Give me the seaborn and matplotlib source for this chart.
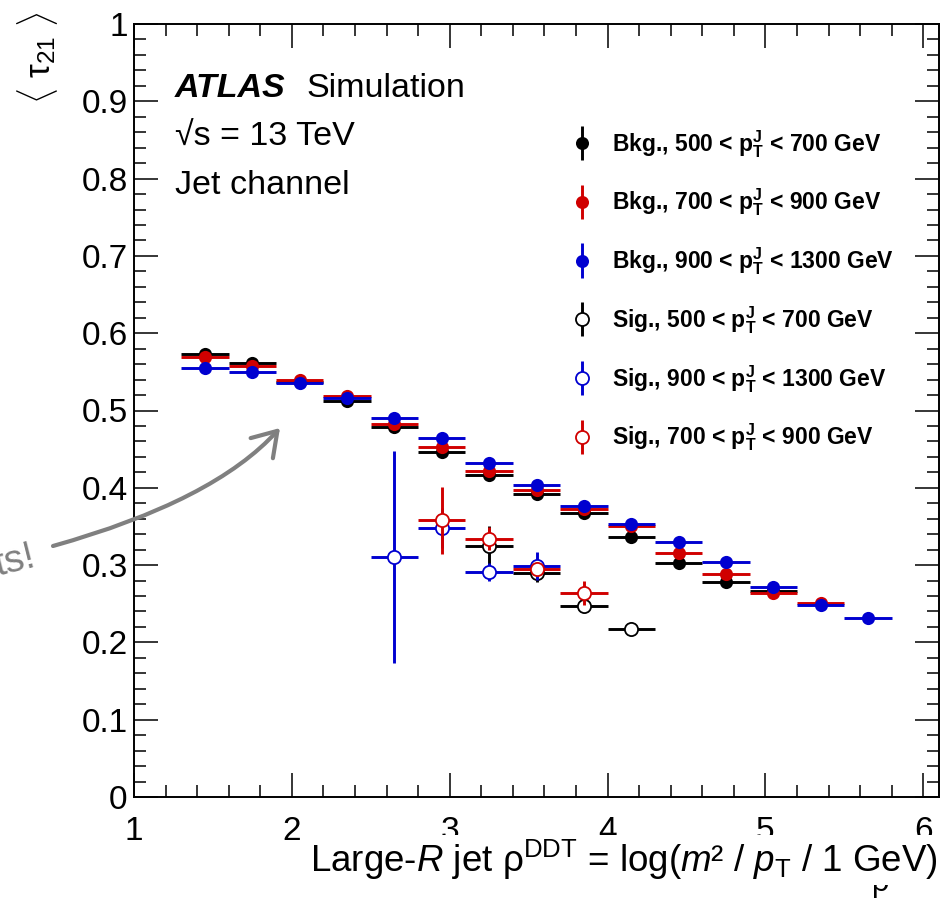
import numpy as np
import pandas as pd
import matplotlib
matplotlib.use("Agg")
import matplotlib.pyplot as plt
import seaborn as sns
from matplotlib.path import Path
from matplotlib.patches import FancyArrowPatch
from matplotlib.ticker import MultipleLocator
from matplotlib.container import ErrorbarContainer
from matplotlib.legend_handler import HandlerErrorbar

# ---------------------------------------------------------------- data
BIN_HALF_WIDTH = 0.15

bkg_500_700_rho = [1.45, 1.75, 2.05, 2.35, 2.65, 2.95, 3.25, 3.55, 3.85, 4.15, 4.45, 4.75, 5.05]
bkg_500_700_tau = [0.573, 0.561, 0.537, 0.512, 0.479, 0.446, 0.417, 0.392, 0.367, 0.336, 0.303, 0.278, 0.267]
bkg_500_700_err = [0.002, 0.002, 0.002, 0.002, 0.002, 0.002, 0.002, 0.002, 0.002, 0.003, 0.003, 0.003, 0.004]

bkg_700_900_rho = [1.45, 1.75, 2.05, 2.35, 2.65, 2.95, 3.25, 3.55, 3.85, 4.15, 4.45, 4.75, 5.05, 5.35]
bkg_700_900_tau = [0.569, 0.558, 0.539, 0.519, 0.483, 0.453, 0.422, 0.397, 0.372, 0.351, 0.316, 0.288, 0.264, 0.251]
bkg_700_900_err = [0.002, 0.002, 0.002, 0.002, 0.002, 0.002, 0.002, 0.002, 0.002, 0.003, 0.003, 0.003, 0.004, 0.004]

bkg_900_1300_rho = [1.45, 1.75, 2.05, 2.35, 2.65, 2.95, 3.25, 3.55, 3.85, 4.15, 4.45, 4.75, 5.05, 5.35, 5.65]
bkg_900_1300_tau = [0.555, 0.550, 0.536, 0.516, 0.490, 0.464, 0.432, 0.404, 0.376, 0.353, 0.330, 0.304, 0.272, 0.249, 0.231]
bkg_900_1300_err = [0.002, 0.002, 0.002, 0.002, 0.002, 0.002, 0.002, 0.002, 0.002, 0.003, 0.003, 0.003, 0.004, 0.004, 0.004]

sig_500_700_rho = [3.25, 3.55, 3.85, 4.15]
sig_500_700_tau = [0.325, 0.290, 0.247, 0.217]
sig_500_700_err = [0.025, 0.012, 0.008, 0.004]

sig_900_1300_rho = [2.65, 2.95, 3.25, 3.55]
sig_900_1300_tau = [0.310, 0.348, 0.291, 0.299]
sig_900_1300_err = [0.137, 0.026, 0.012, 0.018]

sig_700_900_rho = [2.95, 3.25, 3.55, 3.85]
sig_700_900_tau = [0.358, 0.334, 0.295, 0.264]
sig_700_900_err = [0.043, 0.015, 0.008, 0.015]

series_names = [
    r"Bkg., 500 < $\mathbf{p}_{\mathbf{T}}^{\mathbf{J}}$ < 700 GeV",
    r"Bkg., 700 < $\mathbf{p}_{\mathbf{T}}^{\mathbf{J}}$ < 900 GeV",
    r"Bkg., 900 < $\mathbf{p}_{\mathbf{T}}^{\mathbf{J}}$ < 1300 GeV",
    r"Sig., 500 < $\mathbf{p}_{\mathbf{T}}^{\mathbf{J}}$ < 700 GeV",
    r"Sig., 900 < $\mathbf{p}_{\mathbf{T}}^{\mathbf{J}}$ < 1300 GeV",
    r"Sig., 700 < $\mathbf{p}_{\mathbf{T}}^{\mathbf{J}}$ < 900 GeV",
]
series_data = [
    (bkg_500_700_rho, bkg_500_700_tau, bkg_500_700_err),
    (bkg_700_900_rho, bkg_700_900_tau, bkg_700_900_err),
    (bkg_900_1300_rho, bkg_900_1300_tau, bkg_900_1300_err),
    (sig_500_700_rho, sig_500_700_tau, sig_500_700_err),
    (sig_900_1300_rho, sig_900_1300_tau, sig_900_1300_err),
    (sig_700_900_rho, sig_700_900_tau, sig_700_900_err),
]
series_colors = ["#000000", "#d00000", "#0000d0", "#000000", "#0000d0", "#d00000"]
series_filled = [True, True, True, False, False, False]

x_ticks = [1, 2, 3, 4, 5, 6]
x_tick_labels = ["1", "2", "3", "4", "5", "6"]
y_ticks = [0.0, 0.1, 0.2, 0.3, 0.4, 0.5, 0.6, 0.7, 0.8, 0.9, 1.0]
y_tick_labels = ["0", "0.1", "0.2", "0.3", "0.4", "0.5", "0.6", "0.7", "0.8", "0.9", "1"]

frames = []
for name, (rho, tau, err) in zip(series_names, series_data):
    frames.append(pd.DataFrame({"rho": rho, "tau": tau, "err": err, "series": name}))
df = pd.concat(frames, ignore_index=True)

# ---------------------------------------------------------------- style
sns.set_theme(style="ticks")
plt.rcParams["font.family"] = ["Liberation Sans", "DejaVu Sans"]
plt.rcParams["mathtext.fontset"] = "custom"
plt.rcParams["mathtext.rm"] = "Liberation Sans"
plt.rcParams["mathtext.it"] = "Liberation Sans:italic"
plt.rcParams["mathtext.bf"] = "Liberation Sans:bold"
plt.rcParams["mathtext.sf"] = "Liberation Sans"
plt.rcParams["axes.edgecolor"] = "black"
plt.rcParams["xtick.color"] = "black"
plt.rcParams["ytick.color"] = "black"
plt.rcParams["text.color"] = "black"

W, H = 943, 900
fig = plt.figure(figsize=(W / 100, H / 100), dpi=100)
fig.patch.set_facecolor("white")
ax = fig.add_axes([134 / W, 1 - 797 / H, (939 - 134) / W, (797 - 24) / H])
ax.set_facecolor("white")

# ---------------------------------------------------------------- markers
z = 3
for name, color, filled in zip(series_names, series_colors, series_filled):
    sub = df[df["series"] == name]
    ax.errorbar(sub["rho"], sub["tau"], xerr=BIN_HALF_WIDTH, yerr=sub["err"],
                fmt="none", ecolor=color, elinewidth=2.1, capsize=0, zorder=z)
    sns.scatterplot(data=sub, x="rho", y="tau", ax=ax, marker="o", s=90,
                    color=color, facecolor=color if filled else "white",
                    edgecolor=color, linewidth=0 if filled else 1.3,
                    zorder=z + 1, legend=False)
    z += 2

# ---------------------------------------------------------------- axes
ax.set_xlim(1, 6.1)
ax.set_ylim(0, 1)
ax.set_xticks(x_ticks)
ax.set_xticklabels(x_tick_labels)
ax.set_yticks(y_ticks)
ax.set_yticklabels(y_tick_labels)
ax.xaxis.set_minor_locator(MultipleLocator(0.2))
ax.yaxis.set_minor_locator(MultipleLocator(0.02))
ax.tick_params(which="both", direction="in", top=True, right=True, width=1.1)
ax.tick_params(which="major", length=17, labelsize=24)
ax.tick_params(which="minor", length=8.5)
ax.tick_params(axis="x", which="major", pad=13.5)
ax.tick_params(axis="y", which="major", pad=4.5)
for sp in ax.spines.values():
    sp.set_linewidth(1.4)
    sp.set_color("black")
ax.set_xlabel("")
ax.set_ylabel("")

fig.text(37 / W, 1 - 58 / H, r"$\langle$ τ$_{\mathsf{21}}$ $\rangle$", rotation=90,
         ha="center", va="center", fontsize=25)

# ---------------------------------------------------------------- labels
fig.text(175 / W, 1 - 97 / H, "ATLAS", fontsize=24.5, fontweight="bold",
         fontstyle="italic", va="baseline")
fig.text(306 / W, 1 - 97 / H, "Simulation", fontsize=24.5, va="baseline")
fig.text(175 / W, 1 - 146 / H, "√s = 13 TeV", fontsize=24.5, va="baseline")
fig.text(175 / W, 1 - 194 / H, "Jet channel", fontsize=24.5, va="baseline")

# ---------------------------------------------------------------- legend
handles = []
for color, filled in zip(series_colors, series_filled):
    h = ax.errorbar([np.nan], [np.nan], yerr=[np.nan], fmt="o", color=color,
                    mfc=color if filled else "white", mec=color, ms=9.4,
                    mew=0 if filled else 1.3, elinewidth=2.1, capsize=0)
    handles.append(h)
leg = ax.legend(handles, series_names, loc="upper left",
                bbox_to_anchor=(571 / W, 1 - 128 / H), bbox_transform=fig.transFigure,
                frameon=False, prop={"family": "Liberation Sans", "weight": "bold", "size": 16.5},
                handlelength=1.0, handletextpad=0.8, labelspacing=1.18,
                borderpad=0, borderaxespad=0,
                handler_map={ErrorbarContainer: HandlerErrorbar(yerr_size=0.75)})

# ---------------------------------------------------------------- x axis title
fig.text(934 / W, 1 - 892 / H, r"ρ$^{\mathsf{DDT}}$", ha="right", va="baseline", fontsize=22)
fig.text(310 / W, 1 - 872 / H,
         r"Large-$R$ jet ρ$^{\mathsf{DDT}}$ = log($m$² / $p_{\mathsf{T}}$ / 1 GeV)",
         fontsize=26.5, ha="left", va="baseline",
         bbox=dict(facecolor="white", edgecolor="none", pad=2))

# ---------------------------------------------------------------- callout arrow
def fxy(px, py):
    return (px / W, 1 - py / H)

arrow_path = Path([fxy(53, 546), fxy(214, 501), fxy(280, 428)],
                  [Path.MOVETO, Path.CURVE3, Path.CURVE3])
arrow = FancyArrowPatch(path=arrow_path, arrowstyle="->,head_length=0.7,head_width=0.45",
                        mutation_scale=24, lw=3, color="#808080",
                        transform=fig.transFigure)
fig.add_artist(arrow)
fig.text(37 / W, 1 - 566 / H, "ts!", ha="right", va="baseline", fontsize=28,
         color="#808080", rotation=14, rotation_mode="anchor")

fig.savefig("out.png", dpi=100)
